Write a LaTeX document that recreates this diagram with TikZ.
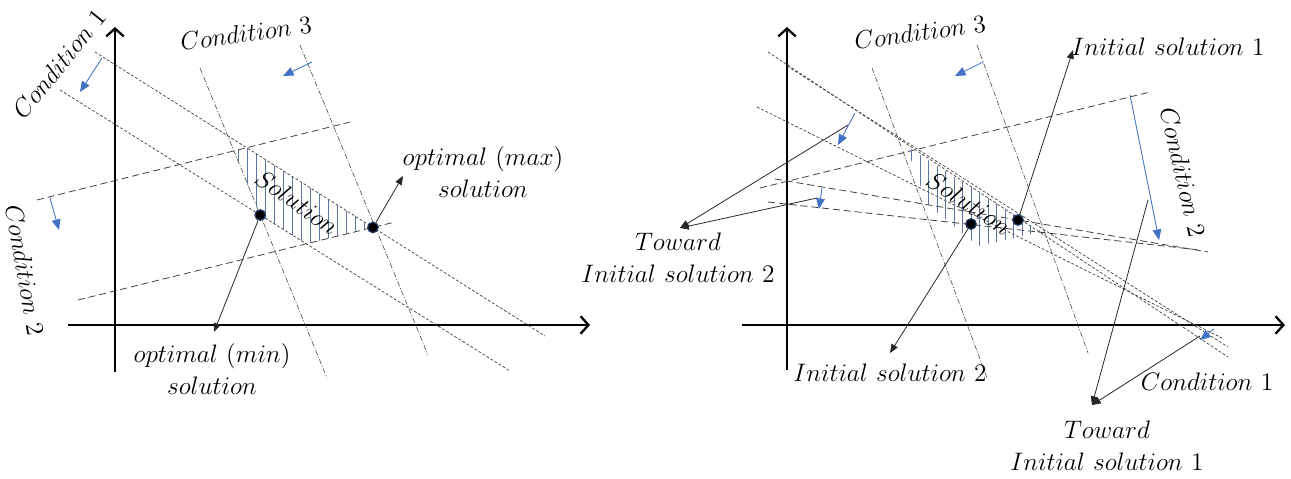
\documentclass[tikz,border=0pt]{standalone}
\usepackage{tikz}
\usetikzlibrary{arrows.meta,calc}
\definecolor{CondBlue}{RGB}{68,114,196}
\definecolor{HatchBlue}{RGB}{95,115,165}

\begin{document}
\begin{tikzpicture}[x=0.02cm, y=-0.02cm,
    axis/.style={line width=1.6pt, -{Straight Barb[length=4.5pt,width=10pt,line width=1.3pt]}},
    condone/.style={black!75, line width=0.4pt, dash pattern=on 1.6pt off 1.1pt},
    condtwo/.style={black!75, line width=0.45pt, dash pattern=on 4pt off 2.2pt},
    condthree/.style={black!70, line width=0.35pt, dash pattern=on 3pt off 1pt on 0.6pt off 1pt},
    move/.style={CondBlue, line width=0.5pt, -{Triangle[length=6pt,width=5pt]}},
    pointer/.style={black!85, line width=0.45pt, -{Triangle[length=5pt,width=4pt]}},
    sol/.style={circle, fill=black, draw=CondBlue!50!black, line width=0.7pt, inner sep=0pt, minimum size=6pt},
    lbl/.style={font=\Large, align=center, inner sep=1pt},
    hatch/.style={HatchBlue, line width=0.45pt}
]
\useasboundingbox (0,0) rectangle (1291,479);

%% left picture
\draw[axis] (115,372) -- (115,27);
\draw[axis] (68,325) -- (590,325);

\coordinate (a1) at (95,52);   \coordinate (a2) at (545,336);
\coordinate (b1) at (60,90);   \coordinate (b2) at (510,371);
\coordinate (c1) at (37,200);  \coordinate (c2) at (350,122);
\coordinate (d1) at (78,300);  \coordinate (d2) at (395,222);
\coordinate (e1) at (200,68);  \coordinate (e2) at (327,378);
\coordinate (f1) at (300,45);  \coordinate (f2) at (428,355);

\draw[condone] (a1) -- (a2);
\draw[condone] (b1) -- (b2);
\draw[condtwo] (c1) -- (c2);
\draw[condtwo] (d1) -- (d2);
\draw[condthree] (e1) -- (e2);
\draw[condthree] (f1) -- (f2);

\draw[move] (102,58) -- (80,92);
\draw[move] (50,198) -- (59,230);
\draw[move] (312,62) -- (283,76);

\coordinate (p1) at (intersection of c1--c2 and e1--e2);
\coordinate (p2) at (intersection of c1--c2 and a1--a2);
\coordinate (p3) at (intersection of a1--a2 and d1--d2);
\coordinate (p4) at (intersection of d1--d2 and b1--b2);
\coordinate (p5) at (intersection of b1--b2 and e1--e2);
\begin{scope}
  \clip (p1) -- (p2) -- (p3) -- (p4) -- (p5) -- cycle;
  \foreach \x in {229,238,...,380} \draw[hatch] (\x,140) -- (\x,250);
\end{scope}

\node[lbl, rotate=-35] (lsol) at (297,202) {$Solution$};
\node[sol] (maxpt) at (p3) {};
\node[sol] (minpt) at (p5) {};

\node[lbl, rotate=51] (lc1) at (59,64) {$Condition\ 1$};
\node[lbl, rotate=-80] (lc2) at (25,270) {$Condition\ 2$};
\node[lbl, rotate=8] (lc3) at (246,33) {$Condition\ 3$};
\node[lbl] (lmax) at (483,172) {$optimal\ (max)$\\$solution$};
\node[lbl] (lmin) at (212,369) {$optimal\ (min)$\\$solution$};

\coordinate (tmax) at (403,176);
\coordinate (tmin) at (214,332);
\draw[pointer] (maxpt) -- (tmax);
\draw[pointer] (minpt) -- (tmin);

%% right picture
\draw[axis] (787,370) -- (787,27);
\draw[axis] (742,325) -- (1285,325);

\draw[condone] (768,52) -- (1228,357);
\draw[condone] (787,66) -- (1228,347);
\draw[condone] (757,107) -- (1222,338);
\draw[condtwo] (760,188) -- (1150,92);
\draw[condtwo] (775,179) -- (1208,252);
\draw[condtwo] (768,202) -- (1200,250);
\draw[condthree] (872,68) -- (987,378);
\draw[condthree] (977,45) -- (1088,353);

\draw[move] (855,113) -- (838,145);
\draw[move] (1214,329) -- (1200,340);
\draw[move] (1130,95) -- (1159,240);
\draw[move] (822,188) -- (819,209);
\draw[move] (983,62) -- (955,76);

\begin{scope}
  \clip (906,146) -- (1042,232) -- (978,246) -- (927,204) -- cycle;
  \foreach \x in {903,911.5,...,1045} \draw[hatch] (\x,140) -- (\x,250);
\end{scope}

\node[lbl, rotate=-33] (rsol) at (969,203) {$Solution$};
\node[sol] (isone) at (1018,220) {};
\node[sol] (istwo) at (971,224) {};

\node[lbl, rotate=8] (rc3) at (920,32) {$Condition\ 3$};
\node[lbl, rotate=-77] (rc2) at (1183,172) {$Condition\ 2$};
\node[lbl] (rc1) at (1207,382) {$Condition\ 1$};
\node[lbl] (ris1) at (1168,47) {$Initial\ solution\ 1$};
\node[lbl] (ris2) at (890,373) {$Initial\ solution\ 2$};
\node[lbl] (rtis2) at (678,258) {$Toward$\\$Initial\ solution\ 2$};
\node[lbl] (rtis1) at (1107,446) {$Toward$\\$Initial\ solution\ 1$};

\coordinate (tisone) at (1073,50);
\coordinate (tistwo) at (890,353);
\draw[pointer] (isone) -- (tisone);
\draw[pointer] (istwo) -- (tistwo);

\coordinate (ttwo) at (680,228);
\coordinate (qa) at (848,125);
\coordinate (qb) at (817,198);
\draw[pointer] (qa) -- (ttwo);
\draw[pointer] (qb) -- (ttwo);

\coordinate (tone) at (1092,405);
\coordinate (qc) at (1148,200);
\coordinate (qd) at (1200,336);
\draw[pointer] (qc) -- (tone);
\draw[pointer] (qd) -- (tone);
\end{tikzpicture}
\end{document}
